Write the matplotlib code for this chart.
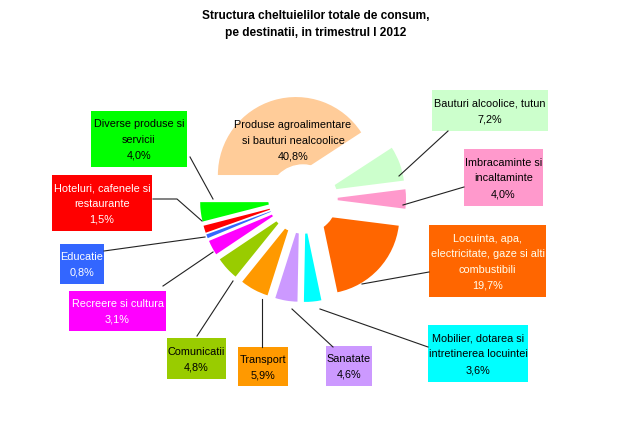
import matplotlib
matplotlib.use("Agg")
import matplotlib.pyplot as plt
from matplotlib.patches import Rectangle, Circle

plt.rcParams['font.family'] = ['Liberation Sans', 'DejaVu Sans']

# ---- date (trimestrul I 2012) ----
categorii = [
    "Produse agroalimentare\nsi bauturi nealcoolice",
    "Bauturi alcoolice, tutun",
    "Imbracaminte si\nincaltaminte",
    "Locuinta, apa,\nelectricitate, gaze si alti\ncombustibili",
    "Mobilier, dotarea si\nintretinerea locuintei",
    "Sanatate",
    "Transport",
    "Comunicatii",
    "Recreere si cultura",
    "Educatie",
    "Hoteluri, cafenele si\nrestaurante",
    "Diverse produse si\nservicii",
]
valori = [40.8, 7.2, 4.0, 19.7, 3.6, 4.6, 5.9, 4.8, 3.1, 0.8, 1.5, 4.0]
culori = ["#FFCC99", "#CCFFCC", "#FF99CC", "#FF6600", "#00FFFF", "#CC99FF",
          "#FF9900", "#99CC00", "#FF00FF", "#3366FF", "#FF0000", "#00FF00"]
culori_text = ["black", "black", "black", "#FFFFEE", "black", "black",
               "black", "black", "white", "white", "white", "black"]

# casete etichete (x0, y0, x1, y1) in pixeli, None = eticheta in felie
casete = [None, (432, 91, 548, 132), (464, 150, 543, 207), (429, 226, 546, 298),
          (428, 326, 528, 383), (326, 347, 372, 387), (238, 348, 288, 387),
          (167, 339, 226, 380), (69, 292, 166, 332), (60, 245, 104, 285),
          (52, 176, 152, 232), (91, 112, 187, 168)]
linii = [None,
         [(448, 132), (399, 177)],
         [(464, 188), (403, 206)],
         [(429, 273), (362, 285)],
         [(428, 348), (320, 310)],
         [(333, 348), (292, 310)],
         [(262, 348), (262, 300)],
         [(197, 337), (233, 282)],
         [(163, 287), (213, 253)],
         [(104, 252), (205, 238)],
         [(153, 200), (177, 200), (202, 222)],
         [(190, 158), (213, 200)]]

W, H = 633, 427
fig = plt.figure(figsize=(W / 100, H / 100), dpi=100)
ax = fig.add_axes([0, 0, 1, 1])

centru = (303, 200)
ax.pie(valori, colors=culori, startangle=180, counterclock=True,
       explode=[25] * len(valori), radius=78, center=centru,
       wedgeprops=dict(linewidth=0))
ax.add_patch(Circle(centru, 34, color="white", zorder=3))

for i, cat in enumerate(categorii):
    txt = f"{cat}\n{valori[i]:.1f}".replace(".", ",") + "%"
    if casete[i] is None:
        ax.text(293, 141, txt, ha="center", va="center", fontsize=7.8,
                linespacing=1.7, color=culori_text[i], zorder=5)
        continue
    x0, y0, x1, y1 = casete[i]
    ax.add_patch(Rectangle((x0, y0), x1 - x0, y1 - y0, facecolor=culori[i],
                           edgecolor="none", zorder=4))
    ax.text((x0 + x1) / 2, (y0 + y1) / 2, txt, ha="center", va="center",
            fontsize=7.8, linespacing=1.7, color=culori_text[i], zorder=5)
    xs = [p[0] for p in linii[i]]
    ys = [p[1] for p in linii[i]]
    ax.plot(xs, ys, color="#222222", lw=0.8, zorder=4)

titlu = ["Structura cheltuielilor totale de consum,",
         "pe destinatii, in trimestrul I 2012"]
ax.text(316, 16, titlu[0], ha="center", va="center", fontsize=8.6,
        fontweight="bold")
ax.text(316, 33, titlu[1], ha="center", va="center", fontsize=8.6,
        fontweight="bold")

ax.set_xlim(0, W)
ax.set_ylim(H, 0)
ax.axis("off")

fig.savefig("out.png", dpi=100)
